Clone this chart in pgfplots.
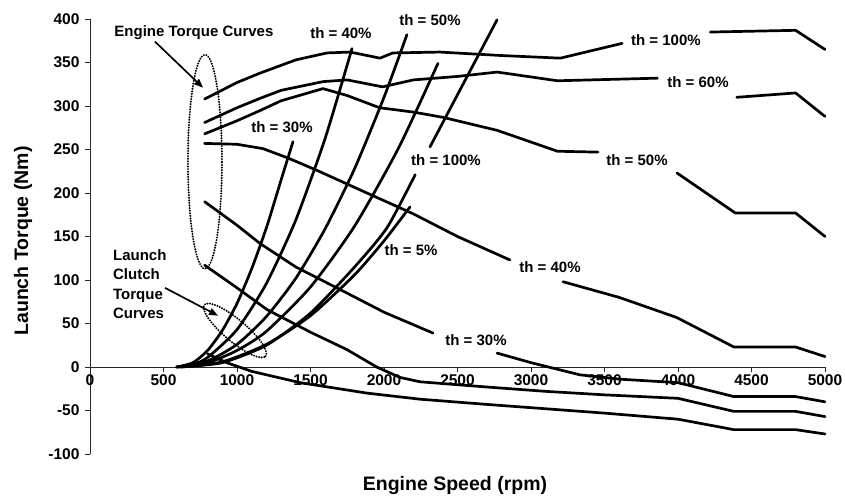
\documentclass[border=0pt]{standalone}
\usepackage{fontspec}
\setmainfont{Liberation Sans}
\usepackage{pgfplots}
\pgfplotsset{compat=1.18}
\usetikzlibrary{arrows.meta}

\newcommand\lbl{\bfseries\fontsize{15}{18}\selectfont}
\newcommand\tcklbl{\bfseries\fontsize{15.5}{18}\selectfont}
\newcommand\axlbl{\bfseries\fontsize{19.5}{22}\selectfont}

\tikzset{
  beads/.style={line width=2.2pt, line cap=round, dash pattern=on 0pt off 2.6pt, black},
  pointer/.style={line width=1.7pt, black, -{Triangle[length=9pt,width=7pt]}},
  curve/.style={black, solid, line width=2.7pt, line join=round, line cap=round, mark=none},
  launch/.style={curve, smooth, tension=0.4},
}

\begin{document}
\begin{tikzpicture}
\path[use as bounding box] (-90pt,-45pt) rectangle (755pt,454pt);
\begin{axis}[
  at={(0,0)}, anchor=south west,
  scale only axis, width=735pt, height=435pt,
  xmin=0, xmax=5000, ymin=-100, ymax=400,
  axis x line=middle, axis y line=left,
  axis line style={-, line width=0.9pt, black!85},
  xtick={0,500,...,5000}, ytick={-100,-50,...,400},
  tick align=outside, major tick length=5pt,
  tick style={line width=0.8pt, black!85},
  ticklabel style={font=\tcklbl},
  yticklabel style={xshift=-2pt},
  xticklabel style={yshift=1pt},
  hide obscured x ticks=false,
  /pgf/number format/assume math mode=true,
  /pgf/number format/1000 sep={},
  clip=false,
  cycle list={{black, solid, mark=none}},
]

% ---- engine torque curves (left part, then the part past each label) ----
\addplot[curve] coordinates {(780,308)(1000,327)(1160,338)(1400,353)(1612,361)(1770,362)(1973,355)(2060,361)(2380,362)(2800,358)(3200,355)(3620,372)};
\addplot[curve] coordinates {(4220,385)(4800,387)(5000,365)};

\addplot[curve] coordinates {(780,281)(1000,298)(1160,309)(1300,318)(1585,328)(1750,330)(1990,322)(2200,330)(2500,334)(2770,339)(3180,329)(3860,332)};
\addplot[curve] coordinates {(4400,310)(4800,315)(5000,288)};

\addplot[curve] coordinates {(780,268)(1000,283)(1160,295)(1300,306)(1585,320)(1750,312)(1970,298)(2200,293)(2400,287)(2770,272)(3180,248)(3456,247)};
\addplot[curve] coordinates {(3993,223)(4390,177)(4800,177)(5000,150)};

\addplot[curve] coordinates {(780,257)(1000,256)(1177,251)(1350,240)(1544,226)(1884,200)(2200,176)(2500,150)(2857,123)};
\addplot[curve] coordinates {(3218,98)(3600,80)(3990,57)(4380,23)(4800,23)(5000,12)};

\addplot[curve] coordinates {(780,190)(1000,163)(1156,142)(1400,115)(1748,85)(2000,63)(2333,39)};
\addplot[curve] coordinates {(2769,16)(3000,5)(3333,-9)(3605,-14)(4000,-18)(4380,-34)(4800,-34)(5000,-40)};

\addplot[curve] coordinates {(780,117)(1000,91)(1204,66)(1500,40)(1748,20)(1950,0)(2109,-12)(2245,-17)(2700,-23)(3100,-28)(3500,-32)(4000,-36)(4380,-51)(4800,-51)(5000,-57)};

\addplot[curve] coordinates {(800,15)(930,5)(1100,-5)(1430,-18)(1884,-30)(2245,-37)(2700,-43)(3100,-48)(3500,-53)(4000,-60)(4380,-72)(4800,-72)(5000,-77)};

% ---- launch clutch torque curves ----
\addplot[launch] coordinates {(590,0)(700,5)(800,19)(900,42)(1000,73)(1100,113)(1200,160)(1300,215)(1381,259)};
\addplot[launch] coordinates {(590,0)(700,3)(800,11)(1000,43)(1200,96)(1400,169)(1600,263)(1782,366)};
\addplot[launch] coordinates {(590,0)(800,7)(1000,26)(1200,58)(1400,102)(1600,159)(1800,228)(2000,310)(2156,382)};
\addplot[launch] coordinates {(590,0)(800,5)(1000,19)(1200,41)(1500,92)(1800,162)(2100,252)(2367,349)};
\addplot[launch] coordinates {(610,0)(900,5)(1200,25)(1500,62)(1800,115)(2020,160)(2212,221)};
\addplot[launch] coordinates {(2313,253)(2500,313)(2769,399)};
\addplot[launch] coordinates {(620,0)(900,6)(1200,26)(1500,59)(1800,106)(2000,145)(2177,184)};

% ---- labels ----
\node[font=\lbl] at (axis cs:1306,276) {th = 30\%};
\node[font=\lbl] at (axis cs:1707,384) {th = 40\%};
\node[font=\lbl] at (axis cs:2313,399) {th = 50\%};
\node[font=\lbl] at (axis cs:2422,238) {th = 100\%};
\node[font=\lbl] at (axis cs:2184,134) {th = 5\%};
\node[font=\lbl] at (axis cs:3918,376) {th = 100\%};
\node[font=\lbl] at (axis cs:4136,328) {th = 60\%};
\node[font=\lbl] at (axis cs:3721,238) {th = 50\%};
\node[font=\lbl] at (axis cs:3129,115) {th = 40\%};
\node[font=\lbl] at (axis cs:2626,31) {th = 30\%};
\node[font=\lbl] at (axis cs:707,384) {Engine Torque Curves};
\node[font=\bfseries\fontsize{15}{19.3}\selectfont, align=left, anchor=north west, inner sep=0pt]
  at (axis cs:156,135) {Launch\\Clutch\\Torque\\Curves};

\draw[pointer] (axis cs:442,374) -- (axis cs:769,321);
\draw[pointer] (axis cs:510,91) -- (axis cs:871,59);

\coordinate (ec) at (axis cs:782,236);
\coordinate (lc) at (axis cs:986,42);
\end{axis}

% dotted outlines around the two groups of curves
\draw[beads] (ec) ellipse [x radius=17pt, y radius=107pt];
\begin{scope}[shift={(lc)}, rotate=-40]
  \draw[beads] (0,0) ellipse [x radius=40pt, y radius=11pt];
\end{scope}

\node[font=\axlbl] at (365pt,-31pt) {Engine Speed (rpm)};
\node[font=\axlbl, rotate=90] at (-67pt,213pt) {Launch Torque (Nm)};
\end{tikzpicture}
\end{document}
